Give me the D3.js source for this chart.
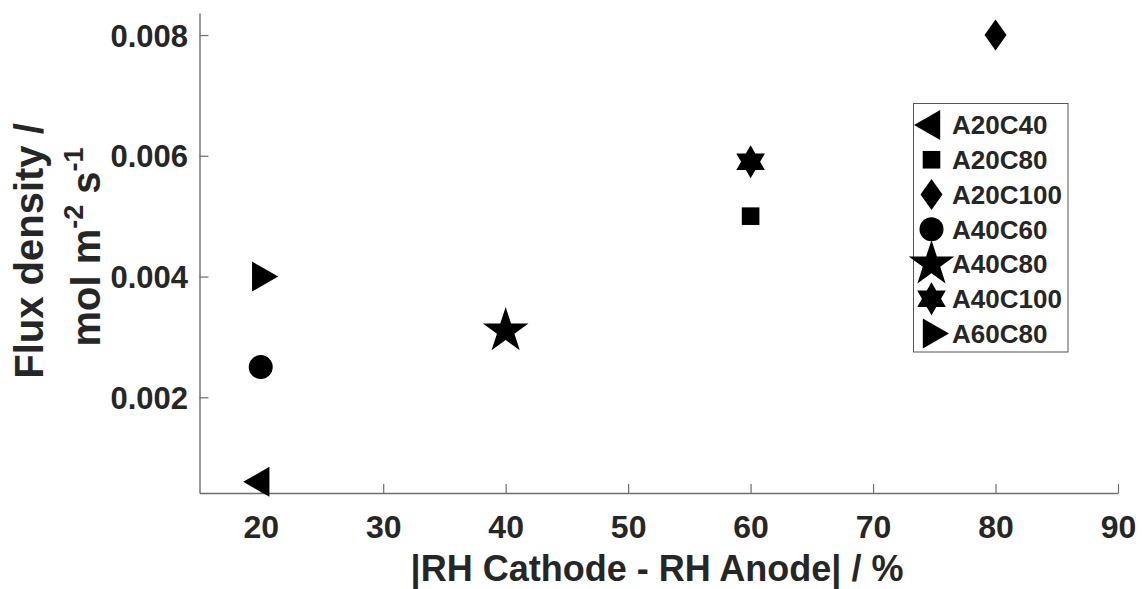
<!DOCTYPE html>
<html>
<head>
<meta charset="utf-8">
<script src="https://cdn.jsdelivr.net/npm/d3@7"></script>
<style>
  html, body { margin: 0; padding: 0; background: #fff; }
  svg { display: block; }
  text { font-family: "Liberation Sans", Arial, Helvetica, sans-serif; font-weight: bold; fill: #262626; }
</style>
</head>
<body>
<svg id="chart" width="1142" height="589"></svg>
<script>
// ---- data ----
const seriesNames = ["A20C40", "A20C80", "A20C100", "A40C60", "A40C80", "A40C100", "A60C80"];
const seriesMarkers = ["triangleLeft", "square", "diamond", "circle", "pentagram", "hexagram", "triangleRight"];
const xValues = [20, 60, 80, 20, 40, 60, 20];
const yValues = [0.0006, 0.005, 0.008, 0.0025, 0.0031, 0.0059, 0.004];
const xTicks = [20, 30, 40, 50, 60, 70, 80, 90];
const yTicks = [0.002, 0.004, 0.006, 0.008];
const xLabel = "|RH Cathode - RH Anode| / %";
const yLabelLine1 = "Flux density /";

// ---- layout ----
const W = 1142, H = 589;
const pLeft = 199.5, pRight = 1118, pTop = 13, pBottom = 493;
const x = d3.scaleLinear().domain([15, 90]).range([pLeft, pRight]);
const y = d3.scaleLinear().domain([0.000415, 0.008365]).range([pBottom, pTop]);

const svg = d3.select("#chart");
svg.append("rect").attr("width", W).attr("height", H).attr("fill", "#fff");

// marker shapes
function markerPath(name) {
  const p = d3.path();
  if (name === "triangleLeft") {
    p.moveTo(-17.5, 0); p.lineTo(8.7, -15); p.lineTo(8.7, 15); p.closePath();
  } else if (name === "triangleRight") {
    p.moveTo(17.5, 0); p.lineTo(-8.7, -15); p.lineTo(-8.7, 15); p.closePath();
  } else if (name === "square") {
    const s = 8.8; p.rect(-s, -s, 2 * s, 2 * s);
  } else if (name === "diamond") {
    p.moveTo(0, -15.5); p.lineTo(11, 0); p.lineTo(0, 15.5); p.lineTo(-11, 0); p.closePath();
  } else if (name === "circle") {
    p.arc(0, 0, 12, 0, 2 * Math.PI);
  } else if (name === "pentagram") {
    const R = 24, r = R * 0.382;
    for (let i = 0; i < 10; i++) {
      const a = -Math.PI / 2 + i * Math.PI / 5;
      const rr = i % 2 === 0 ? R : r;
      if (i === 0) p.moveTo(rr * Math.cos(a), rr * Math.sin(a)); else p.lineTo(rr * Math.cos(a), rr * Math.sin(a));
    }
    p.closePath();
  } else if (name === "hexagram") {
    const R = 16.5, r = R / Math.sqrt(3);
    for (let i = 0; i < 12; i++) {
      const a = -Math.PI / 2 + i * Math.PI / 6;
      const rr = i % 2 === 0 ? R : r;
      if (i === 0) p.moveTo(rr * Math.cos(a), rr * Math.sin(a)); else p.lineTo(rr * Math.cos(a), rr * Math.sin(a));
    }
    p.closePath();
  }
  return p.toString();
}

// ---- axes ----
const axisColor = "#6e6e6e";
const xAxis = d3.axisBottom(x).tickValues(xTicks).tickSize(-9).tickSizeOuter(0).tickFormat(d3.format("d"));
const gx = svg.append("g").attr("transform", `translate(0,${pBottom})`).call(xAxis);
gx.select(".domain").attr("stroke", axisColor).attr("stroke-width", 1.4);
gx.selectAll(".tick line").attr("stroke", axisColor).attr("stroke-width", 1.2);
gx.selectAll(".tick text").attr("y", 45).attr("dy", 0)
  .style("font-size", "32px").style("font-family", '"Liberation Sans", Arial, sans-serif')
  .style("font-weight", "bold").attr("fill", "#262626");

const yAxis = d3.axisLeft(y).tickValues(yTicks).tickSize(-9).tickSizeOuter(0).tickFormat(d3.format(".3f"));
const gy = svg.append("g").attr("transform", `translate(${pLeft},0)`).call(yAxis);
gy.select(".domain").attr("stroke", axisColor).attr("stroke-width", 1.4);
gy.selectAll(".tick line").attr("stroke", axisColor).attr("stroke-width", 1.2);
gy.selectAll(".tick text").attr("x", -11.5).attr("dy", "0.36em")
  .style("font-size", "31px").style("font-family", '"Liberation Sans", Arial, sans-serif')
  .style("font-weight", "bold").attr("fill", "#262626");

// ---- axis titles ----
svg.append("text").attr("x", 657).attr("y", 581).attr("text-anchor", "middle")
  .style("font-size", "36px").text(xLabel);

const yl = svg.append("g").attr("transform", "rotate(-90)");
yl.append("text").attr("x", -251).attr("y", 43).attr("text-anchor", "middle")
  .style("font-size", "40px").text(yLabelLine1);
const l2 = yl.append("text").attr("x", -247).attr("y", 100).attr("text-anchor", "middle")
  .style("font-size", "40px");
l2.append("tspan").text("mol m");
l2.append("tspan").attr("dy", -17).style("font-size", "27px").text("-2");
l2.append("tspan").attr("dy", 17).text(" s");
l2.append("tspan").attr("dy", -17).style("font-size", "27px").text("-1");

// ---- points ----
svg.append("g").selectAll("path").data(seriesNames).join("path")
  .attr("d", (d, i) => markerPath(seriesMarkers[i]))
  .attr("transform", (d, i) => `translate(${x(xValues[i])},${y(yValues[i])})`)
  .attr("fill", "#000").attr("stroke", "none");

// ---- legend ----
const lg = svg.append("g");
lg.append("rect").attr("x", 913.5).attr("y", 103.5).attr("width", 154.5).attr("height", 248.5)
  .attr("fill", "#fff").attr("stroke", "#555").attr("stroke-width", 1);
const legendY = d3.scalePoint().domain(seriesNames).range([125, 333.5]);
const items = lg.selectAll("g.item").data(seriesNames).join("g").attr("class", "item")
  .attr("transform", d => `translate(0,${legendY(d)})`);
items.append("path").attr("d", (d, i) => markerPath(seriesMarkers[i]))
  .attr("transform", "translate(931.5,0)").attr("fill", "#000");
items.append("text").attr("x", 952).attr("y", 9.3).style("font-size", "26px").text(d => d);
</script>
</body>
</html>
